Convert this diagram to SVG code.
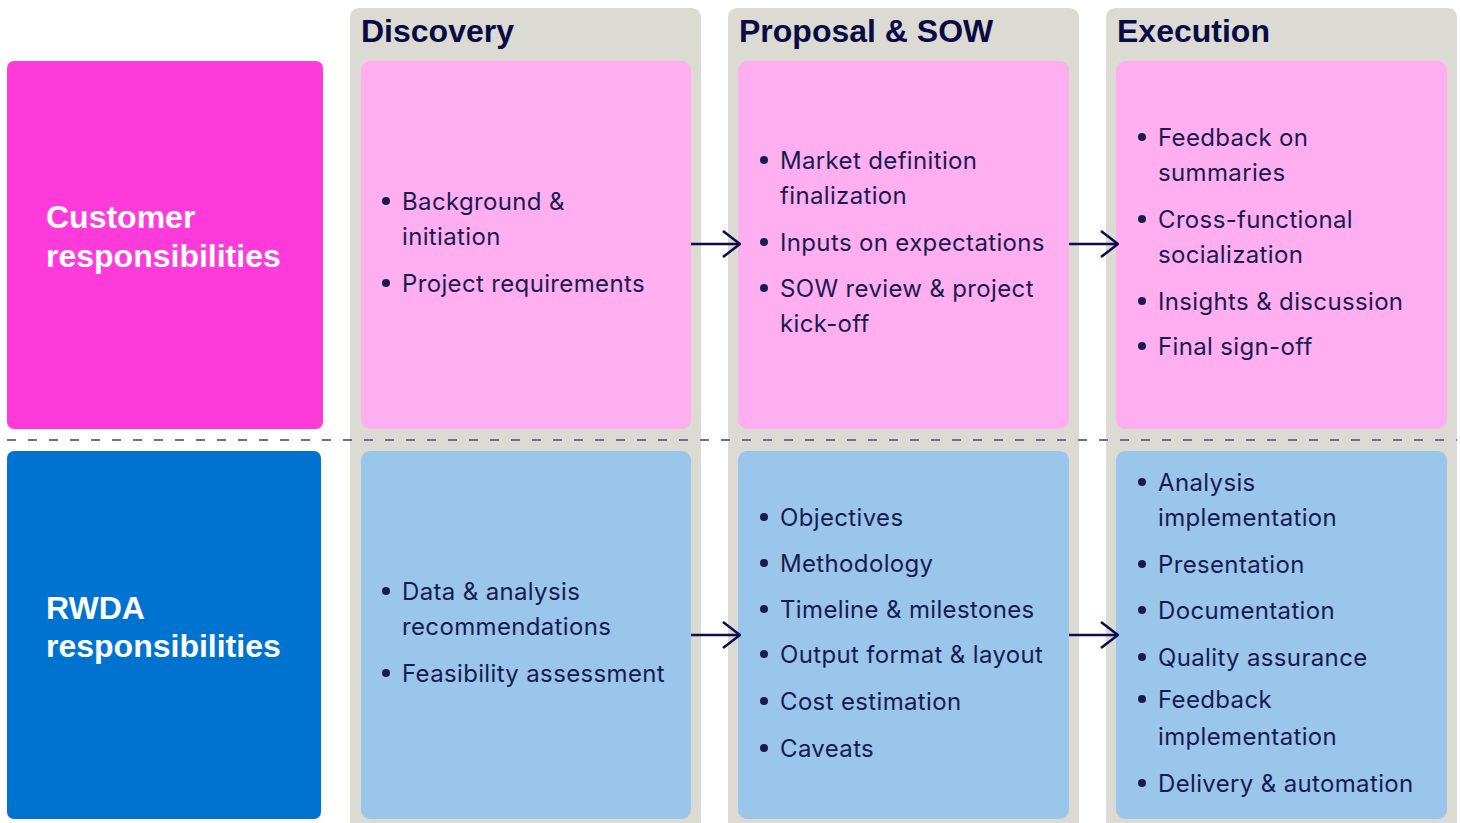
<svg xmlns="http://www.w3.org/2000/svg" width="1460" height="823" viewBox="0 0 1460 823">
<defs>
<marker id="ah" viewBox="0 0 20 30" refX="19" refY="15" markerWidth="20" markerHeight="30" markerUnits="userSpaceOnUse" orient="auto">
<path d="M2,2 L19,15 L2,28" fill="none" stroke="#0D0D4D" stroke-width="2.6"/>
</marker>
</defs>
<style>
.col{fill:#DCDBD3}
.pink{fill:#FFAFF0}
.blue{fill:#99C6EA}
.hd{font-family:"Liberation Sans",Arial,sans-serif;font-weight:bold;font-size:32px;fill:#0A0A45}
.lab{font-family:"Liberation Sans",Arial,sans-serif;font-weight:bold;font-size:32px;fill:#FFFFFF}
.t{font-family:Inter,"Liberation Sans",sans-serif;font-size:24px;letter-spacing:0.35px;fill:#1A1A52}
.dot{fill:#1A1A52}
.conn{stroke:#0D0D4D;stroke-width:2.6;fill:none}
</style>
<rect class="col" x="350" y="8" width="351" height="830" rx="9"/>
<rect class="col" x="728" y="8" width="351" height="830" rx="9"/>
<rect class="col" x="1106" y="8" width="351" height="830" rx="9"/>
<text class="hd" x="361" y="42">Discovery</text>
<text class="hd" x="739" y="42">Proposal &amp; SOW</text>
<text class="hd" x="1117" y="42">Execution</text>
<g id="customer">
<rect x="7" y="61" width="316" height="368" rx="7" fill="#FF3ADB"/>
<text class="lab" x="46" y="228">Customer</text>
<text class="lab" x="46" y="267">responsibilities</text>
</g>
<g id="rwda">
<rect x="7" y="451" width="314" height="368" rx="7" fill="#0073D1"/>
<text class="lab" x="46" y="619">RWDA</text>
<text class="lab" x="46" y="657">responsibilities</text>
</g>
<line x1="7" y1="440" x2="1457" y2="440" stroke="#6E6E90" stroke-width="2" stroke-dasharray="9 12"/>
<g id="disc-cust">
<rect class="pink" x="361" y="61" width="330" height="368" rx="9"/>
<circle class="dot" cx="386" cy="201" r="4"/><text class="t" x="402" y="210">Background &amp;</text>
<text class="t" x="402" y="245">initiation</text>
<circle class="dot" cx="386" cy="283" r="4"/><text class="t" x="402" y="292">Project requirements</text>
</g>
<g id="prop-cust">
<rect class="pink" x="738" y="61" width="331" height="368" rx="9"/>
<circle class="dot" cx="764" cy="160" r="4"/><text class="t" x="780" y="169">Market definition</text>
<text class="t" x="780" y="204">finalization</text>
<circle class="dot" cx="764" cy="242" r="4"/><text class="t" x="780" y="251">Inputs on expectations</text>
<circle class="dot" cx="764" cy="288" r="4"/><text class="t" x="780" y="297">SOW review &amp; project</text>
<text class="t" x="780" y="332">kick-off</text>
</g>
<g id="exec-cust">
<rect class="pink" x="1116" y="61" width="331" height="368" rx="9"/>
<circle class="dot" cx="1142" cy="137" r="4"/><text class="t" x="1158" y="146">Feedback on</text>
<text class="t" x="1158" y="181">summaries</text>
<circle class="dot" cx="1142" cy="219" r="4"/><text class="t" x="1158" y="228">Cross-functional</text>
<text class="t" x="1158" y="263">socialization</text>
<circle class="dot" cx="1142" cy="301" r="4"/><text class="t" x="1158" y="310">Insights &amp; discussion</text>
<circle class="dot" cx="1142" cy="346" r="4"/><text class="t" x="1158" y="355">Final sign-off</text>
</g>
<g id="disc-rwda">
<rect class="blue" x="361" y="451" width="330" height="368" rx="9"/>
<circle class="dot" cx="386" cy="591" r="4"/><text class="t" x="402" y="600">Data &amp; analysis</text>
<text class="t" x="402" y="635">recommendations</text>
<circle class="dot" cx="386" cy="673" r="4"/><text class="t" x="402" y="682">Feasibility assessment</text>
</g>
<g id="prop-rwda">
<rect class="blue" x="738" y="451" width="331" height="368" rx="9"/>
<circle class="dot" cx="764" cy="517" r="4"/><text class="t" x="780" y="526">Objectives</text>
<circle class="dot" cx="764" cy="563" r="4"/><text class="t" x="780" y="572">Methodology</text>
<circle class="dot" cx="764" cy="609" r="4"/><text class="t" x="780" y="618">Timeline &amp; milestones</text>
<circle class="dot" cx="764" cy="654" r="4"/><text class="t" x="780" y="663">Output format &amp; layout</text>
<circle class="dot" cx="764" cy="701" r="4"/><text class="t" x="780" y="710">Cost estimation</text>
<circle class="dot" cx="764" cy="748" r="4"/><text class="t" x="780" y="757">Caveats</text>
</g>
<g id="exec-rwda">
<rect class="blue" x="1116" y="451" width="331" height="368" rx="9"/>
<circle class="dot" cx="1142" cy="482" r="4"/><text class="t" x="1158" y="491">Analysis</text>
<text class="t" x="1158" y="526">implementation</text>
<circle class="dot" cx="1142" cy="564" r="4"/><text class="t" x="1158" y="573">Presentation</text>
<circle class="dot" cx="1142" cy="610" r="4"/><text class="t" x="1158" y="619">Documentation</text>
<circle class="dot" cx="1142" cy="657" r="4"/><text class="t" x="1158" y="666">Quality assurance</text>
<circle class="dot" cx="1142" cy="699" r="4"/><text class="t" x="1158" y="708">Feedback</text>
<text class="t" x="1158" y="745">implementation</text>
<circle class="dot" cx="1142" cy="783" r="4"/><text class="t" x="1158" y="792">Delivery &amp; automation</text>
</g>
<g id="connectors">
<line class="conn" x1="691" y1="244" x2="740" y2="244" marker-end="url(#ah)"/>
<line class="conn" x1="1069" y1="244" x2="1118" y2="244" marker-end="url(#ah)"/>
<line class="conn" x1="691" y1="635" x2="740" y2="635" marker-end="url(#ah)"/>
<line class="conn" x1="1069" y1="635" x2="1118" y2="635" marker-end="url(#ah)"/>
</g>
</svg>
